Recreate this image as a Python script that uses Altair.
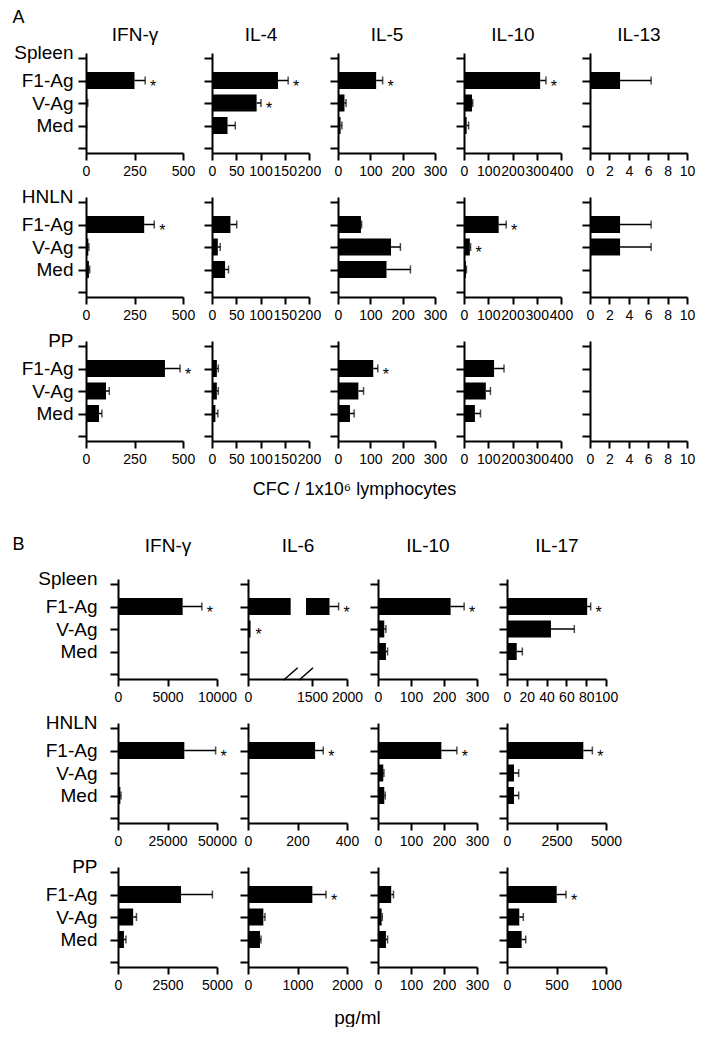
import altair as alt

FONT = "Liberation Sans"
CATS = ["F1-Ag", "V-Ag", "Med"]
TISSUES = ["Spleen", "HNLN", "PP"]

# ---------------- Panel A: CFC / 1x10^6 lymphocytes ----------------
A_CYTO = ["IFN-γ", "IL-4", "IL-5", "IL-10", "IL-13"]
A_MAX = [500, 200, 300, 400, 10]
A_TICKS = [[0, 250, 500], [0, 50, 100, 150, 200], [0, 100, 200, 300],
           [0, 100, 200, 300, 400], [0, 2, 4, 6, 8, 10]]

# values per cytokine, order: F1-Ag, V-Ag, Med
A_SPLEEN_MEAN = [[250, 6, 2], [136, 92, 32], [118, 20, 8], [314, 33, 11], [3.1, 0, 0]]
A_SPLEEN_ERR = [[55, 3, 1], [21, 9, 16], [20, 5, 4], [24, 3, 8], [3.2, 0, 0]]
A_SPLEEN_SIG = [[1, 0, 0], [1, 1, 0], [1, 0, 0], [1, 0, 0], [0, 0, 0]]

A_HNLN_MEAN = [[300, 12, 15], [38, 12, 27], [71, 164, 150], [143, 24, 8], [3.1, 3.1, 0]]
A_HNLN_ERR = [[52, 3, 4], [13, 5, 7], [2, 29, 74], [31, 3, 2], [3.2, 3.2, 0]]
A_HNLN_SIG = [[1, 0, 0], [0, 0, 0], [0, 0, 0], [1, 1, 0], [0, 0, 0]]

A_PP_MEAN = [[407, 103, 67], [10, 10, 7], [109, 63, 37], [124, 90, 45], [0, 0, 0]]
A_PP_ERR = [[78, 17, 15], [3, 3, 5], [14, 16, 13], [41, 19, 23], [0, 0, 0]]
A_PP_SIG = [[1, 0, 0], [0, 0, 0], [1, 0, 0], [0, 0, 0], [0, 0, 0]]

# ---------------- Panel B: pg/ml ----------------
B_CYTO = ["IFN-γ", "IL-6", "IL-10", "IL-17"]
B_SPLEEN_MAX = [10000, 2000, 300, 100]
B_HNLN_MAX = [50000, 400, 300, 5000]
B_PP_MAX = [5000, 2000, 300, 1000]
B_SPLEEN_TICKS = [[0, 5000, 10000], [0, 1500, 2000], [0, 100, 200, 300], [0, 20, 40, 60, 80, 100]]
B_HNLN_TICKS = [[0, 25000, 50000], [0, 200, 400], [0, 100, 200, 300], [0, 2500, 5000]]
B_PP_TICKS = [[0, 2500, 5000], [0, 1000, 2000], [0, 100, 200, 300], [0, 500, 1000]]

B_SPLEEN_MEAN = [[6530, 0, 50], [1750, 60, 20], [220, 19, 24], [81, 44.4, 9.8]]
B_SPLEEN_ERR = [[1940, 0, 0], [130, 0, 0], [41, 5, 5], [3.5, 23.6, 5.7]]
B_SPLEEN_SIG = [[1, 0, 0], [1, 1, 0], [1, 0, 0], [1, 0, 0]]

B_HNLN_MEAN = [[33500, 0, 1200], [271, 3, 3], [192, 16, 19], [3854, 354, 354]]
B_HNLN_ERR = [[15800, 0, 300], [33, 0, 0], [47, 2, 3], [456, 236, 236]]
B_HNLN_SIG = [[1, 0, 0], [1, 0, 0], [1, 0, 0], [1, 0, 0]]

B_PP_MEAN = [[3183, 767, 300], [1300, 310, 242], [40, 11, 24], [502, 124, 148]]
B_PP_ERR = [[1584, 166, 100], [276, 33, 21], [7, 2, 5], [94, 41, 41]]
B_PP_SIG = [[0, 0, 0], [1, 0, 0], [0, 0, 0], [1, 0, 0]]

# broken axis of Spleen IL-6 (pg/ml)
B_IL6_BREAK_DOMAIN = [0, 1500, 2000]
B_IL6_BREAK_RANGE = [0, 64, 99]
B_IL6_BAR_GAP = [1000, 1360]
B_IL6_SLASHES = [[830, 1165], [1195, 1515]]
B_IL6_AXIS_GAP = [1165, 1195]

A_W, B_W, H = 97, 99, 100
# horizontal shift of each B plot inside its grid cell (layout only)
B_SHIFT = [32, 36, 40, 43]


def panel(tissue, mean, err, sig, xmax, ticks, width, first_col, label_pad,
          shift=0, col_title=None, col_title_y=-19, corner=None, corner_x=0, corner_y=0,
          x_title=None, x_title_x=0, x_title_y=48, x_title_size=18,
          piecewise=None, gap=None, slashes=None, axis_gap=None):
    bars, errs, stars = [], [], []
    for i in range(3):
        if mean[i] > 0:
            if gap is not None and i == 0 and mean[i] > gap[1]:
                bars.append(dict(pos=i + 1, a=0, b=gap[0]))
                bars.append(dict(pos=i + 1, a=gap[1], b=mean[i]))
            else:
                bars.append(dict(pos=i + 1, a=0, b=mean[i]))
        if err[i] > 0:
            errs.append(dict(pos=i + 1, a=mean[i], b=mean[i] + err[i]))
        if sig[i]:
            stars.append(dict(pos=i + 1, a=mean[i] + err[i]))

    if piecewise:
        xs = alt.Scale(domain=piecewise[0], range=[shift + v for v in piecewise[1]],
                       nice=False, zero=False)
    else:
        xs = alt.Scale(domain=[0, xmax], range=[shift, shift + width], nice=False, zero=False)

    ax_kw = dict(values=ticks, format="d", tickSize=7, labelFontSize=14,
                 labelPadding=4, labelOverlap=False, labelFlush=False,
                 labelBound=False, grid=False)
    title_text = None
    if corner:
        # panel letter placed above the top-left corner of the first panel
        title_text = corner
        ax_kw.update(title=corner, titleFontSize=18, titleFontWeight="normal",
                     titleX=corner_x, titleY=corner_y, titleBaseline="middle",
                     titleAlign="left", titleAngle=0)
    elif x_title:
        title_text = x_title
        ax_kw.update(title=x_title, titleFontSize=x_title_size, titleFontWeight="normal",
                     titleX=x_title_x, titleY=x_title_y, titleBaseline="middle",
                     titleAlign="center", titleAngle=0)
    xaxis = alt.Axis(**ax_kw)

    label_expr = (f"datum.value == 0 ? '{tissue}' : datum.value == 1 ? '{CATS[0]}' : "
                  f"datum.value == 2 ? '{CATS[1]}' : datum.value == 3 ? '{CATS[2]}' : ''")
    y_kw = dict(values=[0, 1, 2, 3, 4], tickSize=8, labels=first_col,
                labelExpr=label_expr, labelFontSize=19, labelPadding=label_pad,
                labelBaseline={"condition": {"test": "datum.value == 0", "value": "alphabetic"},
                               "value": "middle"},
                labelOverlap=False, labelFlush=False, labelBound=False, grid=False)
    if shift:
        y_kw.update(offset=-shift)
    if col_title:
        y_kw.update(title=col_title, titleFontSize=19, titleFontWeight="normal",
                    titleX=width / 2, titleY=col_title_y, titleAngle=0,
                    titleAlign="center", titleBaseline="middle")
    yaxis = alt.Axis(**y_kw)
    ys = alt.Scale(domain=[0, 4], reverse=True, nice=False, zero=False)

    def X(f):
        return alt.X(f"{f}:Q", scale=xs, axis=xaxis, title=title_text if title_text else None)

    def Y(f="pos"):
        return alt.Y(f"{f}:Q", scale=ys, axis=yaxis, title=col_title if col_title else None)

    layers = [
        alt.Chart(alt.Data(values=bars)).mark_bar(
            orient="horizontal", size=17, color="black"
        ).encode(x=X("a"), x2="b", y=Y()),
        alt.Chart(alt.Data(values=errs)).mark_rule(
            color="black", strokeWidth=1.5
        ).encode(x=X("a"), x2="b", y=Y()),
        alt.Chart(alt.Data(values=errs)).mark_tick(
            orient="vertical", size=8, thickness=1.5, color="black"
        ).encode(x=X("b"), y=Y()),
        alt.Chart(alt.Data(values=stars)).mark_text(
            text="*", dx=8, dy=6, fontSize=16, font=FONT, color="black"
        ).encode(x=X("a"), y=Y()),
    ]
    if slashes:
        gap_rect = [dict(a=axis_gap[0], b=axis_gap[1], pos=3.9, pos2=4.1)]
        layers.append(alt.Chart(alt.Data(values=gap_rect)).mark_rect(
            color="white").encode(x=X("a"), x2="b", y=Y(), y2="pos2"))
        sl = [dict(a=s[0], b=s[1], pos=4.28, pos2=3.72) for s in slashes]
        layers.append(alt.Chart(alt.Data(values=sl)).mark_rule(
            color="black", strokeWidth=1.5).encode(x=X("a"), x2="b", y=Y(), y2="pos2"))

    # the grid cell keeps the A column width; B plots are shifted inside it
    return alt.layer(*layers).properties(width=A_W, height=H)


def blank(w, h):
    # invisible cell used only to space the grid
    return alt.Chart(alt.Data(values=[{"v": 0}])).mark_point(opacity=0).encode(
        x=alt.value(0), y=alt.value(0)).properties(width=w, height=h)


cells = []

# ---- A rows ----
A_MEANS = [A_SPLEEN_MEAN, A_HNLN_MEAN, A_PP_MEAN]
A_ERRS = [A_SPLEEN_ERR, A_HNLN_ERR, A_PP_ERR]
A_SIGS = [A_SPLEEN_SIG, A_HNLN_SIG, A_PP_SIG]
for r, tissue in enumerate(TISSUES):
    for c, cyto in enumerate(A_CYTO):
        kw = {}
        if r == 0:
            kw.update(col_title=cyto, col_title_y=-19)
        if r == 0 and c == 0:
            kw.update(corner="A", corner_x=-74, corner_y=-(H + 36))
        if r == 2 and c == 2:
            kw.update(x_title="CFC / 1x10⁶ lymphocytes", x_title_x=16, x_title_y=48)
        cells.append(panel(tissue, A_MEANS[r][c], A_ERRS[r][c], A_SIGS[r][c],
                           A_MAX[c], A_TICKS[c], A_W, c == 0, 5, **kw))

# ---- gap row between A and B ----
for c in range(5):
    cells.append(blank(1, 50))

# ---- B rows ----
B_MEANS = [B_SPLEEN_MEAN, B_HNLN_MEAN, B_PP_MEAN]
B_ERRS = [B_SPLEEN_ERR, B_HNLN_ERR, B_PP_ERR]
B_SIGS = [B_SPLEEN_SIG, B_HNLN_SIG, B_PP_SIG]
B_MAXS = [B_SPLEEN_MAX, B_HNLN_MAX, B_PP_MAX]
B_TICKS = [B_SPLEEN_TICKS, B_HNLN_TICKS, B_PP_TICKS]
for r, tissue in enumerate(TISSUES):
    for c, cyto in enumerate(B_CYTO):
        kw = dict(shift=B_SHIFT[c])
        if r == 0:
            kw.update(col_title=cyto, col_title_y=-34)
        if r == 0 and c == 0:
            kw.update(corner="B", corner_x=B_SHIFT[0] - 106, corner_y=-(H + 35))
        if r == 0 and c == 1:
            kw.update(piecewise=(B_IL6_BREAK_DOMAIN, B_IL6_BREAK_RANGE),
                      gap=B_IL6_BAR_GAP, slashes=B_IL6_SLASHES, axis_gap=B_IL6_AXIS_GAP)
        if r == 2 and c == 1:
            kw.update(x_title="pg/ml", x_title_x=145, x_title_y=50, x_title_size=19)
        cells.append(panel(tissue, B_MEANS[r][c], B_ERRS[r][c], B_SIGS[r][c],
                           B_MAXS[r][c], B_TICKS[r][c], B_W, c == 0, 13, **kw))
    cells.append(blank(1, H))

chart = alt.concat(*cells, columns=5, spacing={"row": 44, "column": 29},
                   bounds="flush").properties(
    padding={"left": 4, "top": 0, "right": 0, "bottom": 0}
).configure_view(stroke=None).configure_axis(
    domainColor="black", tickColor="black", labelColor="black",
    domainWidth=2, tickWidth=2, labelFont=FONT, titleFont=FONT, titleColor="black"
)

chart.save("out.html", embed_options={"renderer": "svg", "actions": False})
